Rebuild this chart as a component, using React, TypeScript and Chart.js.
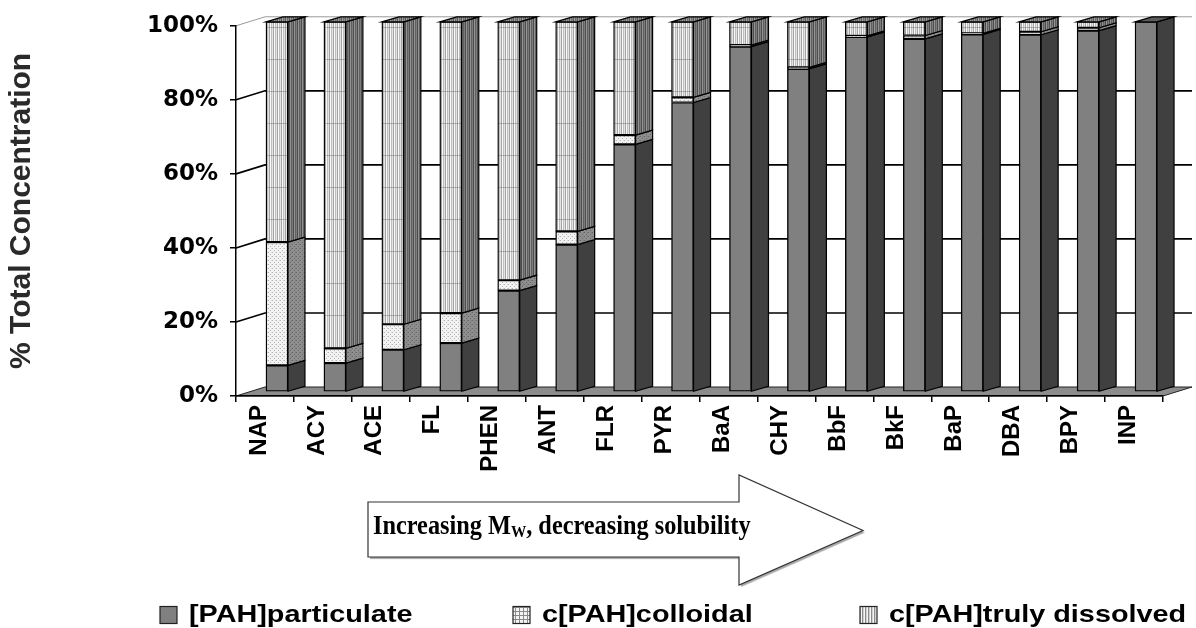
import React, { useEffect, useRef } from "react";
import { Chart, registerables } from "chart.js";

Chart.register(...registerables);

// PAH compounds, ordered by increasing molecular weight
const categories = ["NAP", "ACY", "ACE", "FL", "PHEN", "ANT", "FLR", "PYR", "BaA", "CHY", "BbF", "BkF", "BaP", "DBA", "BPY", "INP"];

// Share of the total concentration in each phase (%)
const particulate = [7.2, 7.8, 11.4, 13.2, 27.4, 39.8, 66.9, 78.2, 93.3, 87.3, 95.9, 95.4, 96.6, 96.5, 97.6, 100];
const colloidal = [33.3, 4.0, 6.9, 8.1, 2.8, 3.6, 2.5, 1.4, 0.4, 0.4, 0.3, 0.9, 0.3, 0.8, 0.8, 0];
const trulyDissolved = [59.5, 88.2, 81.7, 78.7, 69.8, 56.6, 30.6, 20.4, 6.3, 12.3, 3.8, 3.7, 3.1, 2.7, 1.6, 0];

const seriesLabels = ["[PAH]particulate", "c[PAH]colloidal", "c[PAH]truly dissolved"];
const yTickValues = [0, 20, 40, 60, 80, 100];
const yAxisTitle = "% Total Concentration";
const arrowTextParts = ["Increasing M", "W", ", decreasing solubility"];

// 3-D look: depth of the walls/floor, where the columns sit in that depth, and column depth
const WALL_DEPTH = { dx: 29, dy: -9 };
const BAR_SHIFT = { dx: 12, dy: -4 };
const BAR_DEPTH = { dx: 17, dy: -5 };

// Block arrow under the category axis
const ARROW = { left: 368, top: 502, bottom: 557, neck: 739, headTop: 475, headBottom: 585, tip: 863 };

// Legend row along the bottom edge
const LEGEND = { y: 615, boxX: [160, 513, 860], box: 17, textGap: 12, stretch: 1.2 };

function makePattern(w: number, h: number, paint: (g: CanvasRenderingContext2D) => void) {
  const c = document.createElement("canvas");
  c.width = w;
  c.height = h;
  const g = c.getContext("2d")!;
  paint(g);
  return g.createPattern(c, "repeat")!;
}

function stripes(colors: string[], h: number, lineColor?: string) {
  return makePattern(colors.length, h, (g) => {
    colors.forEach((col, i) => {
      g.fillStyle = col;
      g.fillRect(i, 0, 1, h);
    });
    if (lineColor) {
      g.fillStyle = lineColor;
      g.fillRect(0, h - 1, colors.length, 1);
    }
  });
}

function dots(bg: string, dot: string, line?: string) {
  return makePattern(4, 4, (g) => {
    g.fillStyle = bg;
    g.fillRect(0, 0, 4, 4);
    g.fillStyle = dot;
    g.fillRect(0, 0, 1, 1);
    g.fillRect(2, 2, 1, 1);
    if (line) {
      g.fillStyle = line;
      g.fillRect(3, 0, 1, 1);
    }
  });
}

export default function App() {
  const canvasRef = useRef<HTMLCanvasElement | null>(null);

  useEffect(() => {
    document.body.style.margin = "0";
    const canvas = canvasRef.current;
    if (!canvas) return;

    const fronts = [
      "#808080",
      dots("#f3f3f3", "#b4b4b4", "#d8d8d8"),
      stripes(["#e4e4e4", "#a4a4a4", "#fafafa", "#bebebe"], 32, "rgba(110,110,110,0.45)"),
    ];
    const sides = [
      "#404040",
      dots("#8e8e8e", "#666666", "#7a7a7a"),
      stripes(["#7c7c7c", "#4c4c4c", "#949494", "#606060"], 32),
    ];
    const topsFill = [
      "#5c5c5c",
      dots("#a8a8a8", "#777777"),
      stripes(["#8a8a8a", "#5a5a5a", "#a0a0a0", "#6e6e6e"], 32),
    ];
    const legendFills = [
      "#808080",
      makePattern(4, 4, (g) => {
        g.fillStyle = "#f4f4f4";
        g.fillRect(0, 0, 4, 4);
        g.fillStyle = "#8a8a8a";
        g.fillRect(0, 3, 4, 1);
        g.fillRect(3, 0, 1, 4);
      }),
      stripes(["#f6f6f6", "#8a8a8a", "#d0d0d0"], 4),
    ];

    const depthPlugin = {
      id: "depth3d",
      beforeDraw(chart: any) {
        const { ctx, chartArea: a, scales } = chart;
        const ys = scales.y;
        const W = WALL_DEPTH;
        ctx.save();
        const y0 = ys.getPixelForValue(0);
        ctx.fillStyle = "#8c8c8c";
        ctx.beginPath();
        ctx.moveTo(a.left, y0);
        ctx.lineTo(a.left + W.dx, y0 + W.dy);
        ctx.lineTo(a.right + W.dx, y0 + W.dy);
        ctx.lineTo(a.right, y0);
        ctx.closePath();
        ctx.fill();
        ctx.strokeStyle = "#222";
        ctx.lineWidth = 1;
        ctx.stroke();
        for (const v of yTickValues) {
          if (v === 0) continue;
          const py = ys.getPixelForValue(v);
          ctx.strokeStyle = v === 100 ? "#9a9a9a" : "#000";
          ctx.lineWidth = v === 100 ? 1 : 1.6;
          ctx.beginPath();
          ctx.moveTo(a.left, py);
          ctx.lineTo(a.left + W.dx, py + W.dy);
          ctx.lineTo(a.right + W.dx, py + W.dy);
          ctx.stroke();
        }
        ctx.restore();
      },
      beforeDatasetsDraw(chart: any) {
        chart.ctx.save();
        chart.ctx.translate(BAR_SHIFT.dx, BAR_SHIFT.dy);
      },
      afterDatasetsDraw(chart: any) {
        const ctx: CanvasRenderingContext2D = chart.ctx;
        const D = BAR_DEPTH;
        const n = chart.data.labels.length;
        const tops: any[] = new Array(n).fill(null);
        chart.getSortedVisibleDatasetMetas().forEach((meta: any) => {
          meta.data.forEach((bar: any, i: number) => {
            const { x, y, base, width } = bar.getProps(["x", "y", "base", "width"], true);
            if (Math.abs(base - y) < 0.5) return;
            const r = x + width / 2;
            ctx.beginPath();
            ctx.moveTo(r, y);
            ctx.lineTo(r + D.dx, y + D.dy);
            ctx.lineTo(r + D.dx, base + D.dy);
            ctx.lineTo(r, base);
            ctx.closePath();
            ctx.fillStyle = sides[meta.index] as any;
            ctx.fill();
            ctx.lineWidth = 1.2;
            ctx.strokeStyle = "#000";
            ctx.stroke();
            if (!tops[i] || y < tops[i].y) tops[i] = { x, y, width, idx: meta.index };
          });
        });
        tops.forEach((t) => {
          if (!t) return;
          const l = t.x - t.width / 2;
          const r = t.x + t.width / 2;
          ctx.beginPath();
          ctx.moveTo(l, t.y);
          ctx.lineTo(l + D.dx, t.y + D.dy);
          ctx.lineTo(r + D.dx, t.y + D.dy);
          ctx.lineTo(r, t.y);
          ctx.closePath();
          ctx.fillStyle = topsFill[t.idx] as any;
          ctx.fill();
          ctx.lineWidth = 1.2;
          ctx.strokeStyle = "#000";
          ctx.stroke();
        });
        ctx.restore();
      },
      afterDraw(chart: any) {
        const ctx: CanvasRenderingContext2D = chart.ctx;

        // block arrow with its caption
        const A = ARROW;
        const mid = (A.top + A.bottom) / 2;
        ctx.save();
        ctx.beginPath();
        ctx.moveTo(A.left, A.top);
        ctx.lineTo(A.neck, A.top);
        ctx.lineTo(A.neck, A.headTop);
        ctx.lineTo(A.tip, mid + 1);
        ctx.lineTo(A.neck, A.headBottom);
        ctx.lineTo(A.neck, A.bottom);
        ctx.lineTo(A.left, A.bottom);
        ctx.closePath();
        ctx.shadowColor = "rgba(0,0,0,0.35)";
        ctx.shadowOffsetX = 2;
        ctx.shadowOffsetY = 2;
        ctx.shadowBlur = 1;
        ctx.fillStyle = "#fff";
        ctx.fill();
        ctx.shadowColor = "transparent";
        ctx.strokeStyle = "#333";
        ctx.lineWidth = 1.2;
        ctx.stroke();

        ctx.fillStyle = "#000";
        ctx.textBaseline = "alphabetic";
        ctx.translate(A.left + 5, 534);
        ctx.scale(0.9, 1);
        ctx.font = "bold 27px 'Liberation Serif'";
        let cx = 0;
        ctx.fillText(arrowTextParts[0], cx, 0);
        cx += ctx.measureText(arrowTextParts[0]).width;
        ctx.font = "bold 17px 'Liberation Serif'";
        ctx.fillText(arrowTextParts[1], cx, 3);
        cx += ctx.measureText(arrowTextParts[1]).width;
        ctx.font = "bold 27px 'Liberation Serif'";
        ctx.fillText(arrowTextParts[2], cx, 0);
        ctx.restore();

        // legend: swatch + series name for each dataset
        const L = LEGEND;
        chart.data.datasets.forEach((ds: any, i: number) => {
          const bx = L.boxX[i];
          ctx.save();
          ctx.fillStyle = legendFills[i] as any;
          ctx.fillRect(bx, L.y - L.box / 2, L.box, L.box);
          ctx.strokeStyle = "#222";
          ctx.lineWidth = 1.2;
          ctx.strokeRect(bx, L.y - L.box / 2, L.box, L.box);
          ctx.translate(bx + L.box + L.textGap, L.y);
          ctx.scale(L.stretch, 1);
          ctx.fillStyle = "#000";
          ctx.textBaseline = "middle";
          ctx.font = "bold 24px 'Liberation Sans'";
          ctx.fillText(ds.label, 0, 0);
          ctx.restore();
        });
      },
    };

    const seriesData = [particulate, colloidal, trulyDissolved];

    const chart = new Chart(canvas, {
      type: "bar",
      data: {
        labels: categories,
        datasets: seriesData.map((d, i) => ({
          label: seriesLabels[i],
          data: d,
          backgroundColor: fronts[i] as any,
          borderColor: "#000",
          borderWidth: 1.4,
          borderSkipped: false,
          barThickness: 22,
          clip: false as any,
        })),
      },
      options: {
        responsive: false,
        animation: false,
        events: [],
        layout: { padding: { left: 0, top: 25, right: 33, bottom: 0 } },
        plugins: {
          tooltip: { enabled: false },
          legend: { display: false },
        },
        scales: {
          x: {
            stacked: true,
            afterFit: (s: any) => {
              s.height = 232;
            },
            grid: {
              display: true,
              drawOnChartArea: false,
              drawTicks: true,
              tickLength: 6,
              color: "#000",
              lineWidth: 1.5,
              offset: true,
            },
            border: { display: true, color: "#000", width: 1.5 },
            ticks: {
              autoSkip: false,
              minRotation: 90,
              maxRotation: 90,
              padding: 3,
              labelOffset: -6,
              color: "#000",
              font: { family: "'Liberation Sans'", weight: "bold", size: 24 },
            },
          },
          y: {
            stacked: true,
            min: 0,
            max: 100,
            afterFit: (s: any) => {
              s.width = 236;
            },
            afterBuildTicks: (s: any) => {
              s.ticks = yTickValues.map((v) => ({ value: v }));
            },
            grid: {
              display: true,
              drawOnChartArea: false,
              drawTicks: true,
              tickLength: 6,
              color: "#000",
              lineWidth: 1.5,
            },
            border: { display: true, color: "#000", width: 1.5 },
            ticks: {
              padding: 12,
              color: "#000",
              font: { family: "'DejaVu Sans'", weight: "bold", size: 23 },
              callback: (v: any) => `${v}%`,
            },
            title: {
              display: true,
              text: yAxisTitle,
              color: "#2a2a2a",
              padding: { top: 4, bottom: 0 },
              font: { family: "'Liberation Sans'", weight: "bold", size: 30 },
            },
          },
        },
      },
      plugins: [depthPlugin],
    });

    return () => chart.destroy();
  }, []);

  return (
    <div style={{ width: 1196, height: 628, background: "#fff" }}>
      <canvas ref={canvasRef} width={1196} height={628} style={{ display: "block" }} />
    </div>
  );
}
